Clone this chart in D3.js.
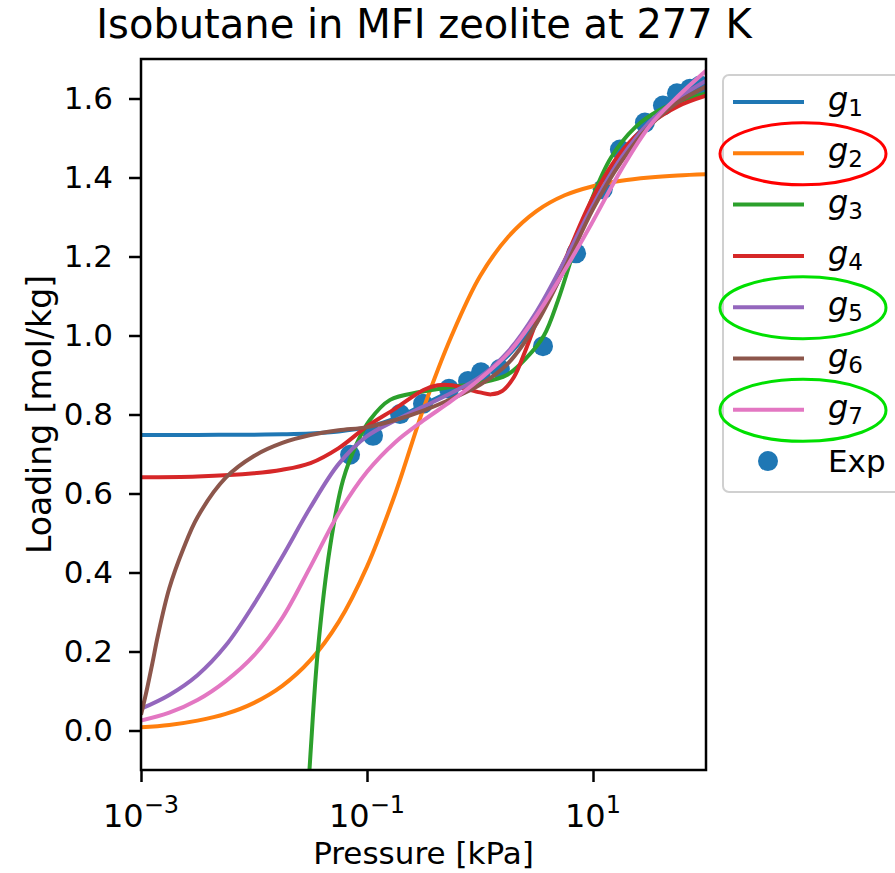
<!DOCTYPE html>
<html>
<head>
<meta charset="utf-8">
<script src="https://cdn.jsdelivr.net/npm/d3@7"></script>
<style>
    html, body { margin: 0; padding: 0; background: #fff; }
    svg { display: block; font-family: 'DejaVu Sans', sans-serif; }
</style>
</head>
<body>
<svg id="chart" width="895" height="873"></svg>
<script>
'use strict';

// Pressure grid shared by the smooth fits [kPa]
const pressure = [0.001, 0.00178, 0.00316, 0.00562, 0.01, 0.0178, 0.0316, 0.0562, 0.1, 0.178,
    0.316, 0.562, 1, 1.78, 3.16, 5.62, 10, 17.8, 31.6, 56.2, 100];

const g1 = [0.748, 0.748, 0.748, 0.749, 0.749, 0.75, 0.752, 0.757, 0.768, 0.79,
    0.825, 0.86, 0.895, 0.95, 1.04, 1.17, 1.33, 1.46, 1.54, 1.59, 1.625];
const g2 = [0.008, 0.014, 0.025, 0.042, 0.07, 0.113, 0.178, 0.275, 0.415, 0.6,
    0.815, 1.0, 1.15, 1.25, 1.315, 1.355, 1.378, 1.392, 1.4, 1.405, 1.408];
const g5 = [0.055, 0.09, 0.14, 0.215, 0.32, 0.44, 0.565, 0.675, 0.745, 0.785,
    0.82, 0.855, 0.895, 0.96, 1.06, 1.19, 1.33, 1.45, 1.54, 1.6, 1.645];
const g7 = [0.025, 0.045, 0.077, 0.125, 0.19, 0.285, 0.415, 0.55, 0.655, 0.73,
    0.785, 0.835, 0.89, 0.955, 1.05, 1.165, 1.29, 1.42, 1.53, 1.605, 1.67];

// Fits that need their own pressure points
const g3 = [[0.0288, -0.25], [0.0316, -0.06], [0.0368, 0.205], [0.0471, 0.465], [0.0614, 0.634],
    [0.0817, 0.728], [0.106, 0.786], [0.16, 0.837], [0.294, 0.857], [0.562, 0.87], [1, 0.88],
    [1.73, 0.9], [2.61, 0.945], [3.68, 1.0], [4.9, 1.089], [6.93, 1.223], [9.59, 1.34],
    [14.4, 1.45], [23.6, 1.527], [38.4, 1.57], [61.4, 1.595], [100, 1.613]];
const g4 = [[0.001, 0.641], [0.00316, 0.643], [0.01, 0.651], [0.0178, 0.66], [0.0316, 0.677],
    [0.0562, 0.715], [0.1, 0.77], [0.178, 0.815], [0.316, 0.862], [0.422, 0.874], [0.562, 0.874],
    [0.75, 0.865], [1, 0.856], [1.26, 0.851], [1.58, 0.86], [2.0, 0.895], [2.51, 0.96],
    [3.16, 1.035], [3.98, 1.1], [5.62, 1.19], [10, 1.35], [17.8, 1.465], [31.6, 1.535],
    [56.2, 1.58], [100, 1.607]];
const g6 = [[0.001, 0.04], [0.00112, 0.1], [0.00126, 0.17], [0.00141, 0.24], [0.00178, 0.36],
    [0.00237, 0.46], [0.00316, 0.54], [0.00562, 0.64], [0.01, 0.695], [0.0178, 0.728],
    [0.0316, 0.748], [0.0562, 0.76], [0.1, 0.768], [0.178, 0.786], [0.316, 0.81], [0.562, 0.84],
    [1, 0.875], [1.78, 0.93], [3.16, 1.03], [5.62, 1.17], [10, 1.32], [17.8, 1.44],
    [31.6, 1.53], [56.2, 1.59], [100, 1.63]];

// Experimental isotherm
const expPressure = [0.0708, 0.113, 0.196, 0.313, 0.532, 0.783, 1.02, 1.5, 3.61, 7.08,
    12.2, 17.3, 28.8, 41.6, 55.3, 72.1, 88.5];
const expLoading = [0.698, 0.746, 0.801, 0.827, 0.865, 0.885, 0.907, 0.915, 0.973, 1.208,
    1.37, 1.471, 1.539, 1.582, 1.613, 1.625, 1.633];

const seriesNames = ['1', '2', '3', '4', '5', '6', '7'];
const colors = ['#1f77b4', '#ff7f0e', '#2ca02c', '#d62728', '#9467bd', '#8c564b', '#e377c2'];
const yTicks = [0.0, 0.2, 0.4, 0.6, 0.8, 1.0, 1.2, 1.4, 1.6];
const xTicks = [1e-3, 1e-1, 1e1];
const xTickExp = ['\u22123', '\u22121', '1'];

const redCircled = ['2'];
const greenCircled = ['5', '7'];

render();

function render() {
    const svg = d3.select('#chart');
    const plot = { left: 141, top: 59, width: 565, height: 711 };

    const x = d3.scaleLog()
        .domain([1e-3, 1e2])
        .range([plot.left, plot.left + plot.width]);
    const y = d3.scaleLinear()
        .domain([-0.1, 1.7])
        .range([plot.top + plot.height, plot.top]);

    const fits = [
        pressure.map((p, i) => [p, g1[i]]),
        pressure.map((p, i) => [p, g2[i]]),
        g3,
        g4,
        pressure.map((p, i) => [p, g5[i]]),
        g6,
        pressure.map((p, i) => [p, g7[i]])
    ];

    svg.append('defs').append('clipPath')
        .attr('id', 'plot-clip')
        .append('rect')
        .attr('x', plot.left)
        .attr('y', plot.top)
        .attr('width', plot.width)
        .attr('height', plot.height);

    const body = svg.append('g').attr('clip-path', 'url(#plot-clip)');

    // dots sit under the lines, as in matplotlib
    body.selectAll('circle.exp')
        .data(expPressure)
        .enter()
        .append('circle')
        .attr('class', 'exp')
        .attr('cx', d => x(d))
        .attr('cy', (d, i) => y(expLoading[i]))
        .attr('r', 10)
        .attr('fill', colors[0]);

    const line = d3.line()
        .x(d => x(d[0]))
        .y(d => y(d[1]))
        .curve(d3.curveCatmullRom.alpha(0.5));

    fits.forEach((fit, i) => {
        body.append('path')
            .attr('d', line(fit))
            .attr('fill', 'none')
            .attr('stroke', colors[i])
            .attr('stroke-width', 4)
            .attr('stroke-linejoin', 'round');
    });

    drawAxes(svg, plot, x, y);
    drawLegend(svg);

    svg.append('text')
        .attr('x', 424)
        .attr('y', 38)
        .attr('text-anchor', 'middle')
        .attr('font-size', 40)
        .text('Isobutane in MFI zeolite at 277 K');
}

function drawAxes(svg, plot, x, y) {
    const bottom = plot.top + plot.height;

    const yAxis = svg.append('g')
        .attr('transform', `translate(${plot.left},0)`)
        .call(d3.axisLeft(y).tickValues(yTicks).tickFormat(d3.format('.1f')).tickSize(12).tickPadding(16));
    yAxis.selectAll('text').attr('font-size', 31).attr('fill', '#000').attr('font-family', 'DejaVu Sans');

    const xAxis = svg.append('g')
        .attr('transform', `translate(0,${bottom})`)
        .call(d3.axisBottom(x).tickValues(xTicks).tickFormat('').tickSize(12));

    [yAxis, xAxis].forEach(axis => {
        axis.select('.domain').remove();
        axis.selectAll('line').attr('stroke', '#000').attr('stroke-width', 2.5);
    });

    xTicks.forEach((t, i) => {
        const label = svg.append('text')
            .attr('x', x(t))
            .attr('y', bottom + 57)
            .attr('text-anchor', 'middle')
            .attr('font-size', 32);
        label.append('tspan').text('10');
        label.append('tspan')
            .attr('dy', -14)
            .attr('font-size', 24)
            .text(xTickExp[i]);
    });

    svg.append('rect')
        .attr('x', plot.left)
        .attr('y', plot.top)
        .attr('width', plot.width)
        .attr('height', plot.height)
        .attr('fill', 'none')
        .attr('stroke', '#000')
        .attr('stroke-width', 2.5);

    svg.append('text')
        .attr('x', plot.left + plot.width / 2)
        .attr('y', 864)
        .attr('text-anchor', 'middle')
        .attr('font-size', 31)
        .text('Pressure [kPa]');

    svg.append('text')
        .attr('transform', `translate(51,${plot.top + plot.height / 2}) rotate(-90)`)
        .attr('text-anchor', 'middle')
        .attr('font-size', 33)
        .text('Loading [mol/kg]');
}

function drawLegend(svg) {
    const left = 723;
    const top = 75;
    const rowGap = 51.3;
    const firstRow = 102;

    svg.append('rect')
        .attr('x', left)
        .attr('y', top)
        .attr('width', 200)
        .attr('height', 417)
        .attr('rx', 6)
        .attr('fill', '#fff')
        .attr('fill-opacity', 0.8)
        .attr('stroke', '#d0d0d0')
        .attr('stroke-width', 2);

    seriesNames.forEach((name, i) => {
        const cy = firstRow + i * rowGap;
        svg.append('line')
            .attr('x1', 733)
            .attr('x2', 804)
            .attr('y1', cy)
            .attr('y2', cy)
            .attr('stroke', colors[i])
            .attr('stroke-width', 4);

        const label = svg.append('text')
            .attr('x', 828)
            .attr('y', cy + 8)
            .attr('font-size', 32);
        label.append('tspan')
            .attr('font-style', 'italic')
            .text('g');
        label.append('tspan')
            .attr('dy', 6)
            .attr('font-size', 23)
            .text(name);

        let ring = null;
        if (redCircled.includes(name)) ring = '#ff0000';
        if (greenCircled.includes(name)) ring = '#00e000';
        if (ring) {
            svg.append('ellipse')
                .attr('cx', 803)
                .attr('cy', cy + 0.5)
                .attr('rx', 83)
                .attr('ry', 31)
                .attr('fill', 'none')
                .attr('stroke', ring)
                .attr('stroke-width', 3);
        }
    });

    const expRow = firstRow + 7 * rowGap;
    svg.append('circle')
        .attr('cx', 768)
        .attr('cy', expRow)
        .attr('r', 10)
        .attr('fill', colors[0]);
    svg.append('text')
        .attr('x', 828)
        .attr('y', expRow + 11)
        .attr('font-size', 31)
        .text('Exp');
}
</script>
</body>
</html>
